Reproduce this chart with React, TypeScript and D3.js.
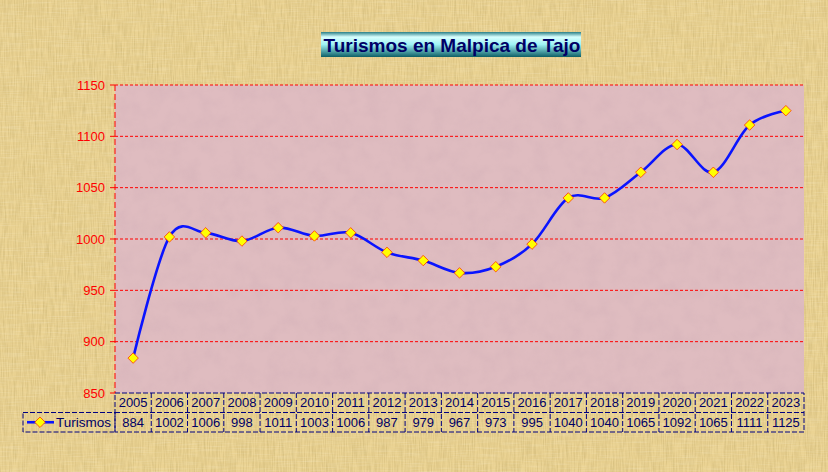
import React from 'react';
import * as d3 from 'd3';

const years = ['2005', '2006', '2007', '2008', '2009', '2010', '2011', '2012', '2013', '2014', '2015', '2016', '2017', '2018', '2019', '2020', '2021', '2022', '2023'];
const turismos = [884, 1002, 1006, 998, 1011, 1003, 1006, 987, 979, 967, 973, 995, 1040, 1040, 1065, 1092, 1065, 1111, 1125];
const yTicks = [850, 900, 950, 1000, 1050, 1100, 1150];
const seriesName = 'Turismos';
const title = 'Turismos en Malpica de Tajo';

const W = 828, H = 472;
const left = 115, right = 804, top = 85, bottom = 393;
const rowH = 19.5;
const font = '"Liberation Sans", Arial, sans-serif';

export default function App() {
  const x = d3.scaleBand().domain(years).range([left, right]);
  const y = d3.scaleLinear().domain([850, 1150]).range([bottom, top]);
  const cx = (yr: string) => (x(yr) ?? 0) + x.bandwidth() / 2;

  // excel-like smoothing
  const line = d3.line<number>()
    .x((_, i) => cx(years[i]))
    .y(d => y(d))
    .curve(d3.curveCatmullRom.alpha(0));

  const diamond = d3.symbol().type(d3.symbolDiamond2).size(70)() ?? '';

  return (
    <svg width={W} height={H} style={{ position: 'fixed', left: 0, top: 0 }} fontFamily={font}>
      <defs>
        <filter id="paper" x="0" y="0" width="100%" height="100%">
          <feTurbulence type="fractalNoise" baseFrequency="0.9 0.05" numOctaves="3" seed="3" />
          <feColorMatrix type="matrix" values="0 0 0 0 0.55  0 0 0 0 0.42  0 0 0 0 0.15  0 0 0 0.9 -0.3" />
          <feComposite in2="SourceGraphic" operator="in" />
        </filter>
        <filter id="paper2" x="0" y="0" width="100%" height="100%">
          <feTurbulence type="fractalNoise" baseFrequency="0.04 0.8" numOctaves="2" seed="11" />
          <feColorMatrix type="matrix" values="0 0 0 0 1  0 0 0 0 0.97  0 0 0 0 0.85  0 0 0 0.8 -0.35" />
          <feComposite in2="SourceGraphic" operator="in" />
        </filter>
        <filter id="marble" x="0" y="0" width="100%" height="100%">
          <feTurbulence type="fractalNoise" baseFrequency="0.06" numOctaves="4" seed="8" />
          <feColorMatrix type="matrix" values="0 0 0 0 0.6  0 0 0 0 0.4  0 0 0 0 0.45  0 0 0 0.8 -0.3" />
          <feComposite in2="SourceGraphic" operator="in" />
        </filter>
        <linearGradient id="titleGrad" x1="0" y1="0" x2="0" y2="1">
          <stop offset="0" stopColor="#2a7f86" />
          <stop offset="0.2" stopColor="#d8ffff" />
          <stop offset="0.5" stopColor="#9ef2f4" />
          <stop offset="1" stopColor="#0d5f66" />
        </linearGradient>
      </defs>

      {/* parchment background */}
      <rect width={W} height={H} fill="#ebd393" />
      <rect width={W} height={H} fill="#ebd393" filter="url(#paper)" />
      <rect width={W} height={H} fill="#ebd393" filter="url(#paper2)" opacity={0.5} />

      {/* plot area */}
      <rect x={left} y={top} width={right - left} height={bottom - top} fill="#dfbcc0" />
      <rect x={left} y={top} width={right - left} height={bottom - top} fill="#dfbcc0" filter="url(#marble)" opacity={0.6} />

      {/* gridlines */}
      {yTicks.slice(1).map(t => (
        <line key={t} x1={left} x2={right} y1={y(t)} y2={y(t)} stroke="#ff0000" strokeWidth={1} strokeDasharray="3,2" />
      ))}

      {/* y axis */}
      <line x1={left} x2={left} y1={top} y2={bottom} stroke="#ff0000" strokeWidth={1} strokeDasharray="6,3" />
      {yTicks.map(t => (
        <g key={t}>
          <line x1={left - 5} x2={left} y1={y(t)} y2={y(t)} stroke="#ff0000" />
          <text x={left - 10} y={y(t)} dy="0.35em" textAnchor="end" fill="#ff0000" fontSize={13}>{t}</text>
        </g>
      ))}

      {/* series */}
      <path d={line(turismos) ?? ''} fill="none" stroke="#0a14ff" strokeWidth={2.6} />
      {turismos.map((v, i) => (
        <path key={i} d={diamond} transform={`translate(${cx(years[i])},${y(v)})`} fill="#ffff00" stroke="#ff3300" strokeWidth={0.8} />
      ))}

      {/* data table */}
      <g stroke="#000080" strokeWidth={1} strokeDasharray="5,2" fill="none">
        <rect x={left} y={bottom} width={right - left} height={rowH * 2} />
        <rect x={23} y={bottom + rowH} width={left - 23} height={rowH} />
        <line x1={left} x2={right} y1={bottom + rowH} y2={bottom + rowH} />
        {years.slice(1).map(yr => (
          <line key={yr} x1={x(yr)} x2={x(yr)} y1={bottom} y2={bottom + rowH * 2} />
        ))}
      </g>
      {years.map((yr, i) => (
        <g key={yr} fill="#000066" fontSize={13} textAnchor="middle">
          <text x={cx(yr)} y={bottom + rowH / 2} dy="0.36em">{yr}</text>
          <text x={cx(yr)} y={bottom + rowH * 1.5} dy="0.36em">{turismos[i]}</text>
        </g>
      ))}
      <line x1={27} x2={54} y1={bottom + rowH * 1.5} y2={bottom + rowH * 1.5} stroke="#0a14ff" strokeWidth={2.6} />
      <path d={diamond} transform={`translate(40,${bottom + rowH * 1.5})`} fill="#ffff00" stroke="#ff3300" strokeWidth={0.8} />
      <text x={56} y={bottom + rowH * 1.5} dy="0.36em" fill="#000066" fontSize={13.5}>{seriesName}</text>

      {/* title */}
      <rect x={321} y={32} width={260} height={25} fill="url(#titleGrad)" />
      <text x={452} y={45} dy="0.36em" textAnchor="middle" fontSize={19} fontWeight="bold" fill="#000066">{title}</text>
    </svg>
  );
}
